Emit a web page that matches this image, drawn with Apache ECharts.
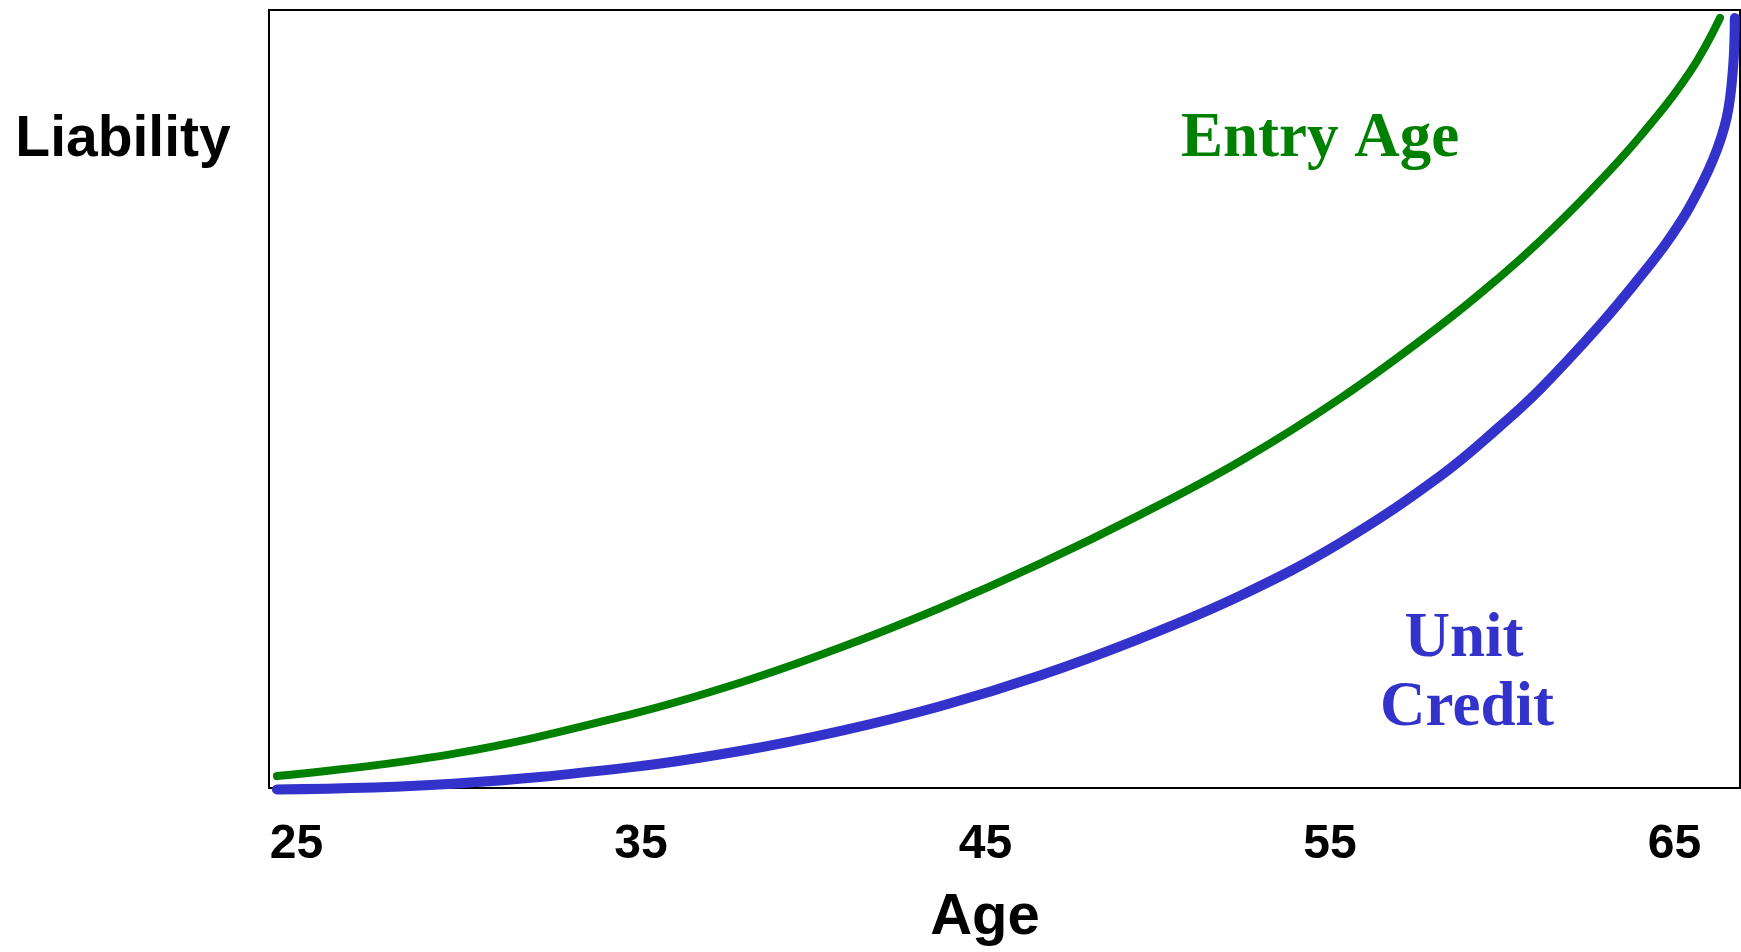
<!DOCTYPE html>
<html>
<head>
<meta charset="utf-8">
<script src="https://cdn.jsdelivr.net/npm/echarts@6/dist/echarts.min.js"></script>
<style>
html,body{margin:0;padding:0;background:#fff;}
#chart{width:1741px;height:952px;}
</style>
</head>
<body>
<div id="chart"></div>
<script>
// Tick labels (ages)
var tickAges = [25, 35, 45, 55, 65];

// Entry Age curve: ages and liability (relative units, 0-100)
var entryAgeX = [24.43, 29.54, 34.73, 37.87, 40.77, 43.68, 46.58, 49.48, 52.39, 55.29, 58.19, 59.93, 61.09, 62.55, 64.00, 65.45, 66.32];
var entryAgeY = [1.54, 4.39, 9.51, 13.53, 18.02, 23.14, 28.83, 35.11, 42.00, 50.06, 59.41, 65.69, 70.29, 76.70, 83.74, 92.06, 98.98];

// Unit Credit curve
var unitCreditX = [24.43, 29.54, 34.73, 37.87, 40.77, 43.68, 46.58, 49.48, 52.39, 55.29, 58.19, 59.93, 61.09, 62.84, 64.00, 64.78, 65.45, 66.12, 66.52, 66.70, 66.75];
var unitCreditY = [-0.19, 0.55, 2.68, 4.75, 7.31, 10.51, 14.47, 19.21, 24.71, 31.50, 40.08, 46.48, 51.22, 59.54, 65.69, 70.17, 74.78, 80.79, 86.30, 92.70, 98.98];

function pairs(xs, ys) {
  var out = [];
  for (var i = 0; i < xs.length; i++) out.push([xs[i], ys[i]]);
  return out;
}

var chart = echarts.init(document.getElementById('chart'), null, {renderer: 'canvas'});
var sans = '"Liberation Sans", Arial, sans-serif';
var serif = '"Liberation Serif", "Times New Roman", serif';

chart.setOption({
  animation: false,
  backgroundColor: '#fff',
  grid: {
    left: 269, right: 1, top: 10, bottom: 161,
    show: true, borderColor: '#000', borderWidth: 2, backgroundColor: 'transparent'
  },
  xAxis: {
    type: 'value',
    min: 24.2,
    max: 66.9,
    axisLine: {show: false},
    axisTick: {show: false},
    splitLine: {show: false},
    axisLabel: {
      customValues: tickAges,
      color: '#000',
      fontFamily: sans,
      fontWeight: 'bold',
      fontSize: 48,
      verticalAlign: 'middle',
      margin: 57
    },
    name: 'Age',
    nameLocation: 'middle',
    nameGap: 130,
    nameTextStyle: {
      color: '#000',
      fontFamily: sans,
      fontWeight: 'bold',
      fontSize: 58,
      verticalAlign: 'middle',
      padding: [0, 39, 0, 0]
    }
  },
  yAxis: {
    type: 'value',
    min: 0,
    max: 100,
    axisLine: {show: false},
    axisTick: {show: false},
    splitLine: {show: false},
    axisLabel: {show: false}
  },
  series: [
    {
      name: 'Entry Age',
      type: 'line',
      data: pairs(entryAgeX, entryAgeY),
      smooth: 0.4,
      showSymbol: false,
      clip: false,
      lineStyle: {color: '#008000', width: 8, cap: 'round', join: 'round'},
      z: 3
    },
    {
      name: 'Unit Credit',
      type: 'line',
      data: pairs(unitCreditX, unitCreditY),
      smooth: 0.4,
      showSymbol: false,
      clip: false,
      lineStyle: {color: '#3333CC', width: 10, cap: 'round', join: 'round'},
      z: 4
    }
  ],
  graphic: [
    {
      type: 'text', x: 123, y: 140.5,
      style: {text: 'Liability', fill: '#000', font: 'bold 57px ' + sans, textAlign: 'center', textVerticalAlign: 'middle'}
    },
    {
      type: 'text', x: 1320, y: 140,
      style: {text: 'Entry Age', fill: '#008000', font: 'bold 63px ' + serif, textAlign: 'center', textVerticalAlign: 'middle'}
    },
    {
      type: 'text', x: 1464, y: 640,
      style: {text: 'Unit', fill: '#3333CC', font: 'bold 63px ' + serif, textAlign: 'center', textVerticalAlign: 'middle'}
    },
    {
      type: 'text', x: 1467, y: 709,
      style: {text: 'Credit', fill: '#3333CC', font: 'bold 63px ' + serif, textAlign: 'center', textVerticalAlign: 'middle'}
    }
  ]
});
</script>
</body>
</html>
